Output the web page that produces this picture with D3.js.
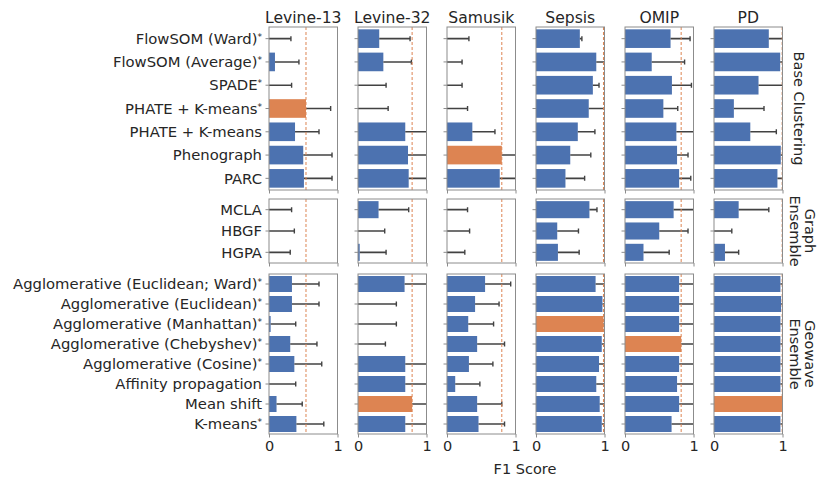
<!DOCTYPE html>
<html>
<head>
<meta charset="utf-8">
<script src="https://cdn.jsdelivr.net/npm/d3@7"></script>
<style>
  body { margin: 0; background: #fff; }
  text { font-family: "DejaVu Sans", sans-serif; fill: #262626; }
</style>
</head>
<body>
<script>
// datasets (columns) and method groups (rows)
var datasets = ["Levine-13", "Levine-32", "Samusik", "Sepsis", "OMIP", "PD"];
var groupNames = [["Base Clustering"], ["Graph", "Ensemble"], ["Geowave", "Ensemble"]];

var baseMethods = ["FlowSOM (Ward)*", "FlowSOM (Average)*", "SPADE*", "PHATE + K-means*",
    "PHATE + K-means", "Phenograph", "PARC"];
var graphMethods = ["MCLA", "HBGF", "HGPA"];
var geoMethods = ["Agglomerative (Euclidean; Ward)*", "Agglomerative (Euclidean)*",
    "Agglomerative (Manhattan)*", "Agglomerative (Chebyshev)*", "Agglomerative (Cosine)*",
    "Affinity propagation", "Mean shift", "K-means*"];

// F1 scores, one row per dataset
var baseScores = [
    [0, 0.087, 0, 0.54, 0.38, 0.50, 0.51],
    [0.31, 0.37, 0, 0, 0.69, 0.73, 0.74],
    [0, 0, 0, 0, 0.37, 0.80, 0.77],
    [0.64, 0.88, 0.83, 0.77, 0.61, 0.50, 0.43],
    [0.665, 0.39, 0.685, 0.56, 0.75, 0.76, 0.79],
    [0.80, 0.966, 0.65, 0.29, 0.53, 0.975, 0.926]
];
var baseErr = [
    [0.32, 0.35, 0.33, 0.36, 0.35, 0.42, 0.41],
    [0.45, 0.41, 0.41, 0.44, 0.40, 0.40, 0.40],
    [0.32, 0.22, 0.22, 0.30, 0.33, 0.30, 0.30],
    [0.03, 0.15, 0.09, 0.30, 0.25, 0.30, 0.28],
    [0.285, 0.48, 0.285, 0.21, 0.30, 0.16, 0.17],
    [0.25, 0.10, 0.40, 0.44, 0.38, 0.05, 0.10]
];

var graphScores = [
    [0, 0, 0],
    [0.30, 0, 0.025],
    [0, 0, 0],
    [0.78, 0.31, 0.32],
    [0.71, 0.50, 0.27],
    [0.36, 0, 0.16]
];
var graphErr = [
    [0.33, 0.37, 0.31],
    [0.44, 0.39, 0.385],
    [0.30, 0.33, 0.26],
    [0.11, 0.31, 0.31],
    [0.35, 0.42, 0.375],
    [0.44, 0.26, 0.20]
];

var geoScores = [
    [0.335, 0.335, 0.024, 0.31, 0.37, 0, 0.11, 0.40],
    [0.68, 0, 0, 0, 0.69, 0.69, 0.79, 0.69],
    [0.556, 0.41, 0.31, 0.44, 0.32, 0.12, 0.44, 0.46],
    [0.87, 0.97, 0.985, 0.96, 0.92, 0.88, 0.93, 0.96],
    [0.79, 0.79, 0.79, 0.82, 0.79, 0.76, 0.79, 0.68],
    [0.97, 0.98, 0.97, 0.97, 0.97, 0.97, 0.995, 0.97]
];
var geoErr = [
    [0.395, 0.395, 0.366, 0.39, 0.40, 0.39, 0.375, 0.40],
    [0.40, 0.56, 0.56, 0.40, 0.40, 0.40, 0.35, 0.40],
    [0.374, 0.35, 0.37, 0.40, 0.35, 0.36, 0.36, 0.38],
    [0.2, 0.2, 0.2, 0.2, 0.2, 0.2, 0.2, 0.2],
    [0.3, 0.3, 0.3, 0.3, 0.3, 0.3, 0.3, 0.4],
    [0.1, 0.1, 0.1, 0.1, 0.1, 0.1, 0.1, 0.1]
];

var xTicks = [0, 1];

var groups = [
    {methods: baseMethods, scores: baseScores, err: baseErr, y0: 27, y1: 190},
    {methods: graphMethods, scores: graphScores, err: graphErr, y0: 199, y1: 263},
    {methods: geoMethods, scores: geoScores, err: geoErr, y0: 274, y1: 434}
];

var blue = "#4c72b0", orange = "#dd8452", spine = "#8c8c8c", errColor = "#424242";
var panelLeft = 269, panelStep = 89, panelW = 68.5;

var svg = d3.select("body").append("svg")
    .attr("width", 817)
    .attr("height", 481);

// best score of each dataset across every method
var best = datasets.map(function (d, i) {
    return d3.max(groups, function (g) { return d3.max(g.scores[i]); });
});

var x = d3.scaleLinear().domain([0, 1]).range([0, panelW]);

// column titles
svg.selectAll(".title")
    .data(datasets)
    .enter().append("text")
    .attr("class", "title")
    .attr("x", function (d, i) { return panelLeft + i * panelStep + panelW / 2; })
    .attr("y", 23)
    .attr("text-anchor", "middle")
    .style("font-size", "15.6px")
    .text(function (d) { return d; });

groups.forEach(function (g, gi) {
    var h = g.y1 - g.y0;
    var y = d3.scaleBand()
        .domain(g.methods)
        .range([0, h])
        .paddingInner(0.2)
        .paddingOuter(0.1);

    datasets.forEach(function (name, di) {
        var panel = svg.append("g")
            .attr("transform", "translate(" + (panelLeft + di * panelStep) + "," + g.y0 + ")");

        var clipId = "clip-" + gi + "-" + di;
        panel.append("clipPath").attr("id", clipId)
            .append("rect").attr("width", panelW).attr("height", h);

        var rows = g.methods.map(function (m, k) {
            return {method: m, value: g.scores[di][k], err: g.err[di][k]};
        });

        var inner = panel.append("g").attr("clip-path", "url(#" + clipId + ")");

        inner.selectAll("rect.bar")
            .data(rows)
            .enter().append("rect")
            .attr("class", "bar")
            .attr("x", 0)
            .attr("y", function (d) { return y(d.method); })
            .attr("width", function (d) { return x(d.value); })
            .attr("height", y.bandwidth())
            .attr("fill", function (d) { return d.value === best[di] ? orange : blue; });

        // one-sided error bars
        var cy = function (d) { return y(d.method) + y.bandwidth() / 2; };
        inner.selectAll("line.err")
            .data(rows)
            .enter().append("line")
            .attr("class", "err")
            .attr("x1", function (d) { return x(d.value); })
            .attr("x2", function (d) { return x(d.value + d.err); })
            .attr("y1", cy)
            .attr("y2", cy)
            .attr("stroke", errColor)
            .attr("stroke-width", 1.6);
        inner.selectAll("line.cap")
            .data(rows)
            .enter().append("line")
            .attr("class", "cap")
            .attr("x1", function (d) { return x(d.value + d.err); })
            .attr("x2", function (d) { return x(d.value + d.err); })
            .attr("y1", function (d) { return cy(d) - 2.5; })
            .attr("y2", function (d) { return cy(d) + 2.5; })
            .attr("stroke", errColor)
            .attr("stroke-width", 1.4);

        inner.append("line")
            .attr("x1", x(best[di]))
            .attr("x2", x(best[di]))
            .attr("y1", 0)
            .attr("y2", h)
            .attr("stroke", orange)
            .attr("stroke-width", 1)
            .attr("stroke-dasharray", "3,2");

        panel.append("rect")
            .attr("width", panelW)
            .attr("height", h)
            .attr("fill", "none")
            .attr("stroke", spine)
            .attr("stroke-width", 1);

        var yAxis = panel.append("g")
            .call(d3.axisLeft(y).tickSize(3.5).tickFormat(""));
        yAxis.select(".domain").remove();
        yAxis.selectAll("line").attr("stroke", spine);

        var xAxis = panel.append("g")
            .attr("transform", "translate(0," + h + ")")
            .call(d3.axisBottom(x).tickValues(xTicks).tickSize(3.5)
                .tickFormat(gi === groups.length - 1 ? d3.format("d") : ""));
        xAxis.select(".domain").remove();
        xAxis.selectAll("line").attr("stroke", spine);
        xAxis.selectAll("text")
            .attr("y", 7)
            .attr("dy", "0.71em")
            .style("font-size", "14.5px")
            .style("font-family", "DejaVu Sans, sans-serif")
            .attr("fill", "#262626");
    });

    // method labels with superscript asterisks
    var labels = svg.append("g")
        .attr("transform", "translate(" + (panelLeft - 7) + "," + g.y0 + ")");
    g.methods.forEach(function (m) {
        var starred = m.endsWith("*");
        var t = labels.append("text")
            .attr("x", 0)
            .attr("y", y(m) + y.bandwidth() / 2)
            .attr("dy", "0.35em")
            .attr("text-anchor", "end")
            .style("font-size", "14.8px");
        t.append("tspan").text(starred ? m.slice(0, -1) : m);
        if (starred) {
            t.append("tspan")
                .attr("dy", "-0.45em")
                .style("font-size", "9px")
                .text("*");
        }
    });

    // group label on the right, rotated (text tops face right)
    var lines = groupNames[gi];
    var cyGroup = (g.y0 + g.y1) / 2;
    var lab = svg.append("text")
        .attr("transform", "translate(" + (lines.length === 1 ? 794 : 790) + "," + cyGroup + ") rotate(90)")
        .attr("text-anchor", "middle")
        .style("font-size", "14.5px");
    lines.forEach(function (l, k) {
        lab.append("tspan")
            .attr("x", 0)
            .attr("y", lines.length === 1 ? 0 : (k === 0 ? -15 : 0))
            .text(l);
    });
});

svg.append("text")
    .attr("x", 525)
    .attr("y", 474)
    .attr("text-anchor", "middle")
    .style("font-size", "14.5px")
    .text("F1 Score");
</script>
</body>
</html>
